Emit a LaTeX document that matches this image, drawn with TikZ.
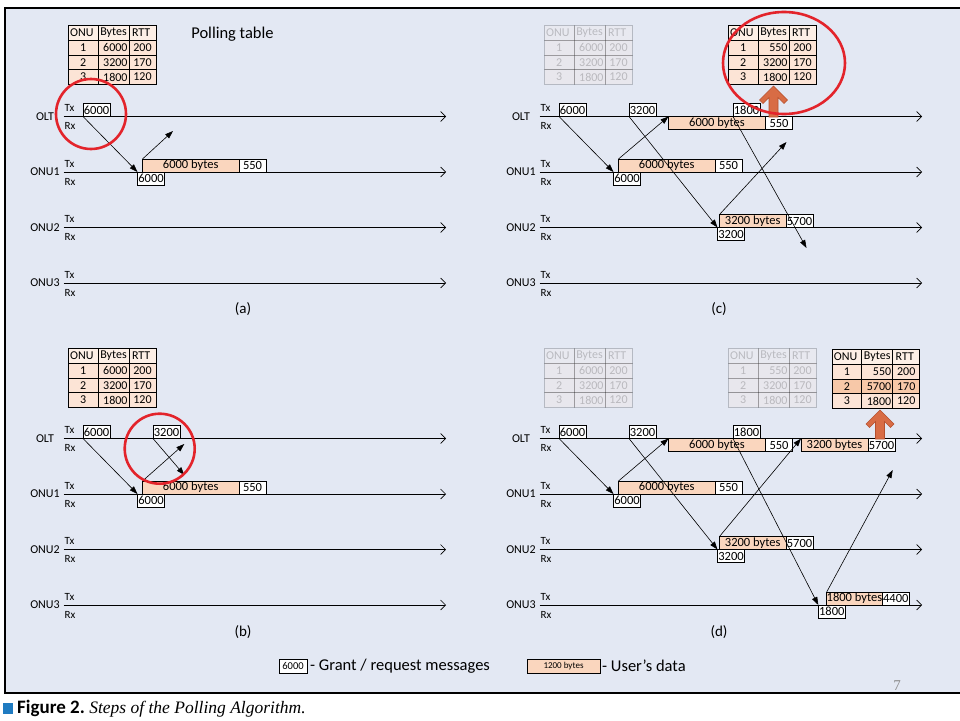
\documentclass[tikz,border=0pt]{standalone}
\usepackage{fontspec}
\setmainfont{Carlito}
\newfontfamily\capserif{Liberation Serif}
\usepackage{xcolor}
\definecolor{panelbg}{HTML}{E3E8F3}
\definecolor{peach}{HTML}{FAD6BE}
\definecolor{rowpeach}{HTML}{FCE4D6}
\definecolor{headpeach}{HTML}{FDEFE6}
\definecolor{hotpeach}{HTML}{F7C8A8}
\definecolor{ringred}{HTML}{E3242B}
\definecolor{arrowfill}{HTML}{D86C45}
\definecolor{arrowline}{HTML}{B5502E}
\definecolor{capblue}{HTML}{1F7BC1}
\usetikzlibrary{arrows.meta,matrix,positioning}

\tikzset{
  ptable/.style={matrix of nodes,anchor=north west,inner sep=0pt,
    row sep=-0.6pt,column sep=-0.6pt,
    nodes={draw,line width=0.6pt,fill=rowpeach,minimum height=14.7pt,
      inner sep=0pt,outer sep=0pt,anchor=center,font=\fontsize{12}{12}\selectfont},
    column 1/.style={nodes={minimum width=29.5pt}},
    column 2/.style={nodes={text width=28pt,align=right,inner xsep=1.5pt}},
    column 3/.style={nodes={minimum width=27pt}},
    row 1/.style={nodes={fill=headpeach,align=center}}},
  grant/.style={draw,fill=white,line width=0.6pt,inner sep=0pt,outer sep=0pt,
    minimum height=13pt,minimum width=27pt,font=\fontsize{12.5}{12.5}\selectfont},
  userdata/.style={grant,fill=peach},
  msg/.style={line width=0.6pt,-{Triangle[length=8pt,width=5.5pt]}},
  timeline/.style={line width=0.6pt,-{Straight Barb[length=5pt,width=10pt]}},
  station/.style={inner sep=0pt,font=\fontsize{12}{12}\selectfont},
  port/.style={inner sep=0pt,anchor=west,font=\fontsize{11}{11}\selectfont},
  ring/.style={draw=ringred,line width=2.6pt},
  uparrow/.style={fill=arrowfill,draw=arrowline,line width=0.6pt},
  sublabel/.style={inner sep=0pt,font=\fontsize{15}{15}\selectfont},
  keytext/.style={inner sep=0pt,font=\fontsize{16.5}{16.5}\selectfont}
}

\begin{document}
\begin{tikzpicture}[x=1pt,y=-1pt]
\useasboundingbox (0,0) rectangle (960,720);
\fill[white] (0,0) rectangle (960,720);
% frame
\fill[panelbg] (5,8) rectangle (965,693);
\draw[line width=1.4pt] (965,8) -- (5,8) -- (5,693) -- (965,693);

% time axes of the four steps
\foreach \p/\sx/\sy in {a/0/0,b/0/322,c/476/0,d/476/322}{
  \begin{scope}[shift={(\sx,\sy)}]
    \foreach \st/\lab [count=\i from 0] in {olt/OLT,onu1/ONU1,onu2/ONU2,onu3/ONU3}{
      \coordinate (\p-\st-s) at (63.5,116.5+55.5*\i);
      \coordinate (\p-\st-e) at (446,116.5+55.5*\i);
      \node[station] (\p-\st) at ([xshift=-18.5pt]\p-\st-s) {\lab};
      \node[port] (\p-\st-tx) at ([xshift=1pt,yshift=8.4pt]\p-\st-s) {Tx};
      \node[port] (\p-\st-rx) at ([xshift=1pt,yshift=-9.5pt]\p-\st-s) {Rx};
      \draw[timeline] (\p-\st-s) -- (\p-\st-e);
    }
  \end{scope}
}

% (a)
\begin{scope}
  \matrix[ptable] (a-tab) at (68,25) {
    ONU & Bytes & RTT \\ 1 & 6000 & 200 \\ 2 & 3200 & 170 \\ 3 & 1800 & 120 \\ };
  \node[inner sep=0pt,font=\fontsize{16.5}{16.5}\selectfont] (a-title) at (232.5,34.5) {Polling table};
  \node[grant,anchor=south west] (a-g1) at (83,116.5) {6000};
  \node[grant,anchor=north west] (a-r1) at (137.5,172) {6000};
  \node[userdata,anchor=south west,minimum width=96.5pt] (a-u1) at (142.5,172) {6000 bytes};
  \node[grant,right=0pt of a-u1] (a-c1) {550};
  \coordinate (a-e1) at (173,131);
  \draw[msg] (a-g1.south west) -- (a-r1.north west);
  \draw[msg] (a-u1.north west) -- (a-e1);
  \draw[ring] (91,114) circle[radius=35pt];
  \node[sublabel] (a-lab) at (243,309) {(a)};
\end{scope}

% (b)
\begin{scope}[shift={(0,322)}]
  \matrix[ptable] (b-tab) at (68,26) {
    ONU & Bytes & RTT \\ 1 & 6000 & 200 \\ 2 & 3200 & 170 \\ 3 & 1800 & 120 \\ };
  \node[grant,anchor=south west] (b-g1) at (83,116.5) {6000};
  \node[grant,anchor=south west] (b-g2) at (153,116.5) {3200};
  \node[grant,anchor=north west] (b-r1) at (137.5,172) {6000};
  \node[userdata,anchor=south west,minimum width=96.5pt] (b-u1) at (142.5,172) {6000 bytes};
  \node[grant,right=0pt of b-u1] (b-c1) {550};
  \coordinate (b-e1) at (184.3,122);
  \coordinate (b-e2) at (184.3,153);
  \draw[msg] (b-g1.south west) -- (b-r1.north west);
  \draw[msg] (b-u1.north west) -- (b-e1);
  \draw[msg] (b-g2.south west) -- (b-e2);
  \draw[ring] (159.7,126.7) circle[radius=35pt];
  \node[sublabel] (b-lab) at (243,310) {(b)};
\end{scope}

% (c)
\begin{scope}[shift={(476,0)}]
  \begin{scope}[opacity=0.2]
    \matrix[ptable] (c-tab0) at (68,25) {
      ONU & Bytes & RTT \\ 1 & 6000 & 200 \\ 2 & 3200 & 170 \\ 3 & 1800 & 120 \\ };
  \end{scope}
  \matrix[ptable] (c-tab) at (252,25) {
    ONU & Bytes & RTT \\ 1 & 550 & 200 \\ 2 & 3200 & 170 \\ 3 & 1800 & 120 \\ };
  \node[grant,anchor=south west] (c-g1) at (83,116.5) {6000};
  \node[grant,anchor=south west] (c-g2) at (153,116.5) {3200};
  \node[grant,anchor=south west] (c-g3) at (257,116.5) {1800};
  \node[grant,anchor=north west] (c-r1) at (137.5,172) {6000};
  \node[userdata,anchor=south west,minimum width=96.5pt] (c-u1) at (142.5,172) {6000 bytes};
  \node[grant,right=0pt of c-u1] (c-c1) {550};
  \node[userdata,anchor=north west,minimum width=97pt] (c-o1) at (192.5,116.5) {6000 bytes};
  \node[grant,right=0pt of c-o1] (c-oc1) {550};
  \node[grant,anchor=north west] (c-r2) at (241.5,227.5) {3200};
  \node[userdata,anchor=south west,minimum width=66.5pt] (c-u2) at (243.5,227.5) {3200 bytes};
  \node[grant,right=0pt of c-u2] (c-c2) {5700};
  \coordinate (c-e2) at (310.5,142);
  \coordinate (c-e3) at (330.5,248);
  \draw[msg] (c-g1.south west) -- (c-r1.north west);
  \draw[msg] (c-u1.north west) -- (c-o1.north west);
  \draw[msg] (c-g2.south west) -- (c-r2.north west);
  \draw[msg] (c-u2.north west) -- (c-e2);
  \draw[msg] (c-g3.south west) -- (c-e3);
  \coordinate (c-up) at (297.5,86);
  \draw[uparrow] (c-up) -- ++(14,14) -- ++(-3.5,3.5) -- ++(-6,-6) -- ++(0,19.5)
    -- ++(-9,0) -- ++(0,-19.5) -- ++(-6,6) -- ++(-3.5,-3.5) -- cycle;
  \draw[ring] (308,63) ellipse[x radius=61pt,y radius=51pt];
  \node[sublabel] (c-lab) at (243,309) {(c)};
\end{scope}

% (d)
\begin{scope}[shift={(476,322)}]
  \begin{scope}[opacity=0.2]
    \matrix[ptable] (d-tab0) at (68,26) {
      ONU & Bytes & RTT \\ 1 & 6000 & 200 \\ 2 & 3200 & 170 \\ 3 & 1800 & 120 \\ };
    \matrix[ptable] (d-tab1) at (252,26) {
      ONU & Bytes & RTT \\ 1 & 550 & 200 \\ 2 & 3200 & 170 \\ 3 & 1800 & 120 \\ };
  \end{scope}
  \matrix[ptable,row 3/.style={nodes={fill=hotpeach}}] (d-tab) at (355.7,27) {
    ONU & Bytes & RTT \\ 1 & 550 & 200 \\ 2 & 5700 & 170 \\ 3 & 1800 & 120 \\ };
  \node[grant,anchor=south west] (d-g1) at (83,116.5) {6000};
  \node[grant,anchor=south west] (d-g2) at (153,116.5) {3200};
  \node[grant,anchor=south west] (d-g3) at (257,116.5) {1800};
  \node[grant,anchor=north west] (d-r1) at (137.5,172) {6000};
  \node[userdata,anchor=south west,minimum width=96.5pt] (d-u1) at (142.5,172) {6000 bytes};
  \node[grant,right=0pt of d-u1] (d-c1) {550};
  \node[userdata,anchor=north west,minimum width=97pt] (d-o1) at (192.5,116.5) {6000 bytes};
  \node[grant,right=0pt of d-o1] (d-oc1) {550};
  \node[grant,anchor=north west] (d-r2) at (241.5,227.5) {3200};
  \node[userdata,anchor=south west,minimum width=66.5pt] (d-u2) at (243.5,227.5) {3200 bytes};
  \node[grant,right=0pt of d-u2] (d-c2) {5700};
  \node[userdata,anchor=north west,minimum width=67pt] (d-o2) at (325,116.5) {3200 bytes};
  \node[grant,right=0pt of d-o2] (d-oc2) {5700};
  \node[grant,anchor=north west] (d-r3) at (342.3,283) {1800};
  \node[userdata,anchor=south west,minimum width=54pt] (d-u3) at (350.7,283) {1800 bytes};
  \node[grant,right=0pt of d-u3] (d-c3) {4400};
  \coordinate (d-e3) at (416.7,148);
  \draw[msg] (d-g1.south west) -- (d-r1.north west);
  \draw[msg] (d-u1.north west) -- (d-o1.north west);
  \draw[msg] (d-g2.south west) -- (d-r2.north west);
  \draw[msg] (d-u2.north west) -- (d-o2.north west);
  \draw[msg] (d-g3.south west) -- (d-r3.north west);
  \draw[msg] (d-u3.north west) -- (d-e3);
  \coordinate (d-up) at (404,88);
  \draw[uparrow] (d-up) -- ++(14,14) -- ++(-3.5,3.5) -- ++(-6,-6) -- ++(0,17.5)
    -- ++(-9,0) -- ++(0,-17.5) -- ++(-6,6) -- ++(-3.5,-3.5) -- cycle;
  \node[sublabel] (d-lab) at (243,310) {(d)};
\end{scope}

% key
\node[grant,anchor=west,minimum width=28pt,minimum height=14pt,font=\fontsize{10.5}{10.5}\selectfont] (key-grant) at (279,666) {6000};
\node[keytext,right=3pt of key-grant] (key-grant-txt) {- Grant / request messages};
\node[userdata,anchor=west,minimum width=73pt,minimum height=14pt,font=\fontsize{9}{9}\selectfont] (key-data) at (527,666) {1200 bytes};
\node[keytext,right=2pt of key-data] (key-data-txt) {- User's data};
\node[inner sep=0pt,text=black!45,font=\capserif\fontsize{15}{15}\selectfont] (page-no) at (897,686) {7};

% caption
\fill[capblue] (3,703) rectangle (13,714);
\node[anchor=base west,inner sep=0pt,font=\bfseries\fontsize{19}{19}\selectfont] (cap-fig) at (17,713.5) {Figure 2.};
\node[anchor=base west,inner sep=0pt,font=\capserif\itshape\fontsize{17.5}{17.5}\selectfont] (cap-txt) at ([xshift=4pt]cap-fig.base east) {Steps of the Polling Algorithm.};
\end{tikzpicture}
\end{document}
